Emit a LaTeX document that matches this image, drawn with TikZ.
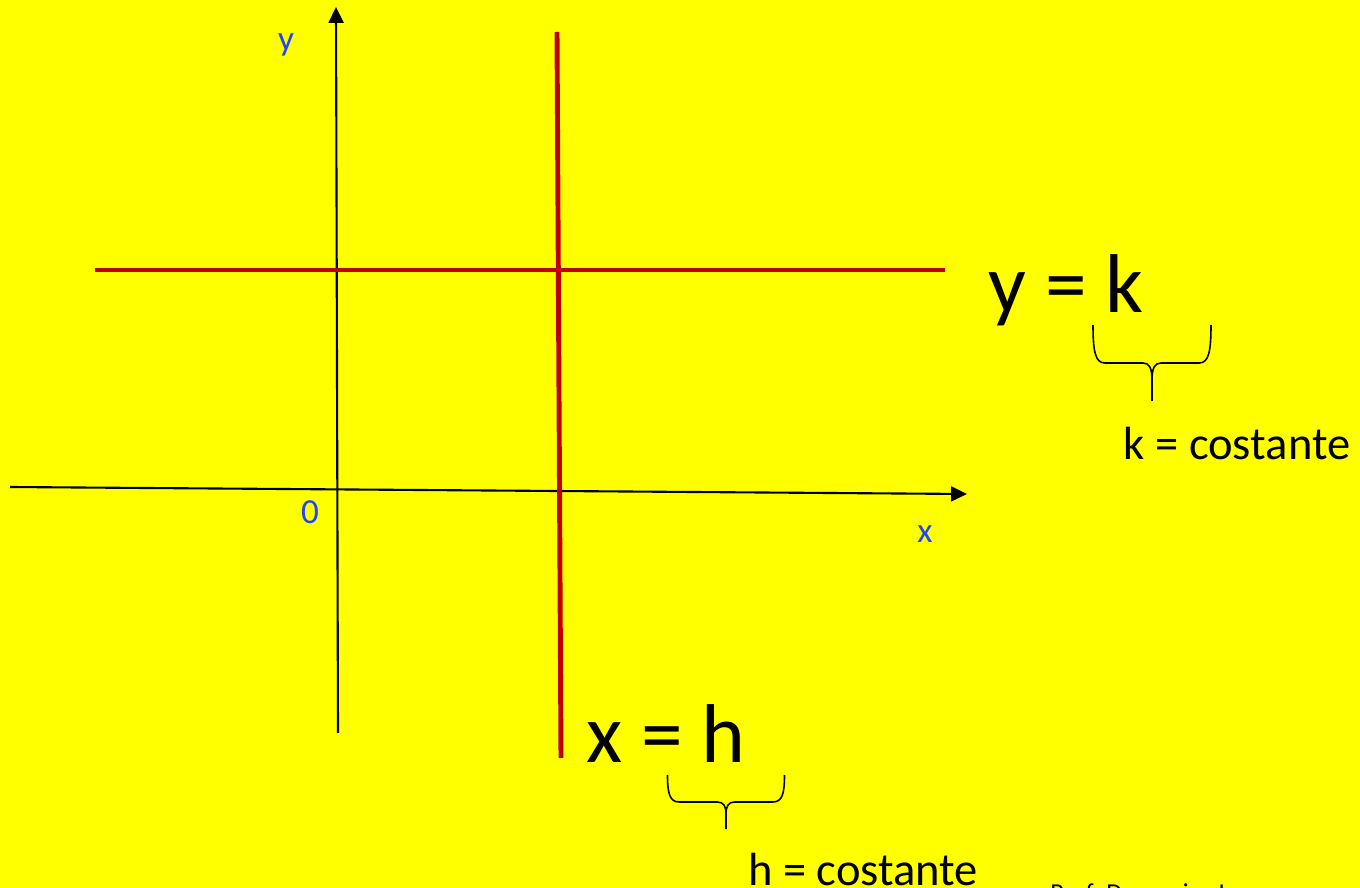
\documentclass[tikz,border=0pt]{standalone}
\usepackage{fontspec}
\setmainfont{Carlito}
\usetikzlibrary{arrows.meta}
\definecolor{sfondo}{RGB}{255,255,0}
\definecolor{rosso}{RGB}{192,0,0}
\definecolor{blu}{RGB}{30,70,250}
\tikzset{
  asse/.style={line width=1.2pt, -{Triangle[length=9pt,width=8.5pt]}},
  retta/.style={rosso, line width=2.8pt},
  etichetta/.style={blu, inner sep=0pt, anchor=base, font=\fontsize{20}{24}\selectfont},
  equazione/.style={inner sep=0pt, anchor=base, font=\fontsize{47.5}{56}\selectfont},
  nota/.style={inner sep=0pt, anchor=base, font=\fontsize{26.5}{31}\selectfont},
  graffa/.pic={
    \draw[line width=0.9pt] (-1,0) .. controls (-1,0.7) and (-0.96,1) .. (-0.8,1)
      -- (-0.15,1) .. controls (-0.04,1) and (0,1.15) .. (0,1.45) -- (0,2)
      (0,1.45) .. controls (0,1.15) and (0.04,1) .. (0.15,1)
      -- (0.8,1) .. controls (0.96,1) and (1,0.7) .. (1,0);
  }
}
\begin{document}
\begin{tikzpicture}[x=0.02cm, y=-0.02cm]
\useasboundingbox (0,0) rectangle (1360,888);
\clip (0,0) rectangle (1360,888);
\fill[sfondo] (0,0) rectangle (1360,888);

\coordinate (ysud) at (338,733);
\coordinate (ynord) at (336,7);
\coordinate (xovest) at (10,487);
\coordinate (xest) at (967,494);
\draw[asse] (ysud) -- (ynord);
\draw[asse] (xovest) -- (xest);

\coordinate (kovest) at (95,270);
\coordinate (kest) at (945,270);
\coordinate (hnord) at (557,32);
\coordinate (hsud) at (561,758);
\draw[retta] (kovest) -- (kest);
\draw[retta] (hnord) -- (hsud);

\node[etichetta] (ly) at (286,51) {y};
\node[etichetta] (lzero) at (310,524) {0};
\node[etichetta] (lx) at (925,542) {x};

\node[equazione] (eqk) at (1066,313) {y = k};
\pic[xscale=59, yscale=38] (graffak) at (1152,325) {graffa};
\node[nota] (costk) at (1237,460) {k = costante};

\node[equazione] (eqh) at (666,762) {x = h};
\pic[xscale=58.5, yscale=27] (graffah) at (726,775) {graffa};
\node[nota] (costh) at (863,885) {h = costante};

\node[inner sep=0pt, anchor=base west, font=\fontsize{14.7}{18}\selectfont] (autore) at (1050,901) {Prof. Domenico L};
\end{tikzpicture}
\end{document}
